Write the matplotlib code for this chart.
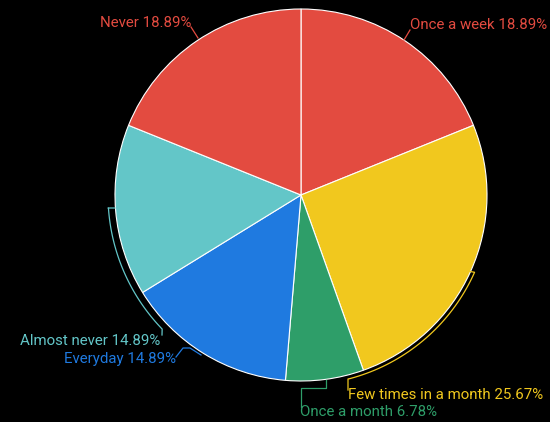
import numpy as np
import matplotlib
matplotlib.use("Agg")
import matplotlib.pyplot as plt

categories = ["Once a week", "Few times in a month", "Once a month", "Everyday", "Almost never", "Never"]
values = [18.89, 25.67, 6.78, 14.89, 14.89, 18.89]
colors = ["#E34B40", "#F1C81E", "#2E9E69", "#1F7AE0", "#63C6C8", "#E34B40"]

W, H = 550, 422
fig = plt.figure(figsize=(W / 100, H / 100), dpi=100, facecolor="black")
ax = fig.add_axes([0, 0, 1, 1])
ax.set_facecolor("black")
ax.set_xlim(0, W)
ax.set_ylim(0, H)
ax.set_aspect("equal")
ax.axis("off")

cx, cy, R = 301, H - 195, 186
wedges, _ = ax.pie(values, colors=colors, startangle=90, counterclock=False,
                   center=(cx, cy), radius=R,
                   wedgeprops=dict(edgecolor="white", linewidth=0.8))
ax.set_xlim(0, W)
ax.set_ylim(0, H)

plt.rcParams["font.family"] = ["Roboto", "DejaVu Sans"]
fs = 10.8

def lab(i, x, y, ha, pts):
    c = colors[i]
    ax.text(x, H - y, f"{categories[i]} {values[i]:.2f}%", color=c, fontsize=fs,
            ha=ha, va="center", family=["Roboto", "DejaVu Sans"])
    px = [p[0] for p in pts]
    py = [H - p[1] for p in pts]
    ax.plot(px, py, color=c, lw=0.9)

def arcpts(r, a0, a1, n=40):
    a = np.radians(np.linspace(a0, a1, n))
    return [(cx + r * np.cos(t), 195 - r * np.sin(t)) for t in a]

# Never
lab(5, 191, 23, "right", [(191, 27), (198, 38)])
# Once a week
lab(0, 410, 25, "left", [(410, 30), (404, 40)])
# Almost never (arc leader)
pts = [(115, 208), (108, 208)] + arcpts(193, 184, 224) + [(162, 335)]
lab(4, 160, 341, "right", pts)
# Everyday
lab(3, 176, 359, "right", [(176, 357), (183, 348), (190, 348), (201, 355)])
# Few times in a month
pts = [(348, 390), (348, 379)] + arcpts(190, 285, 336) + [(467, 271)]
lab(1, 348, 395, "left", pts)
# Once a month
lab(2, 300, 412, "left", [(301, 407), (301, 388), (326, 388), (326, 380)])

fig.savefig("out.png", dpi=100, facecolor="black")
